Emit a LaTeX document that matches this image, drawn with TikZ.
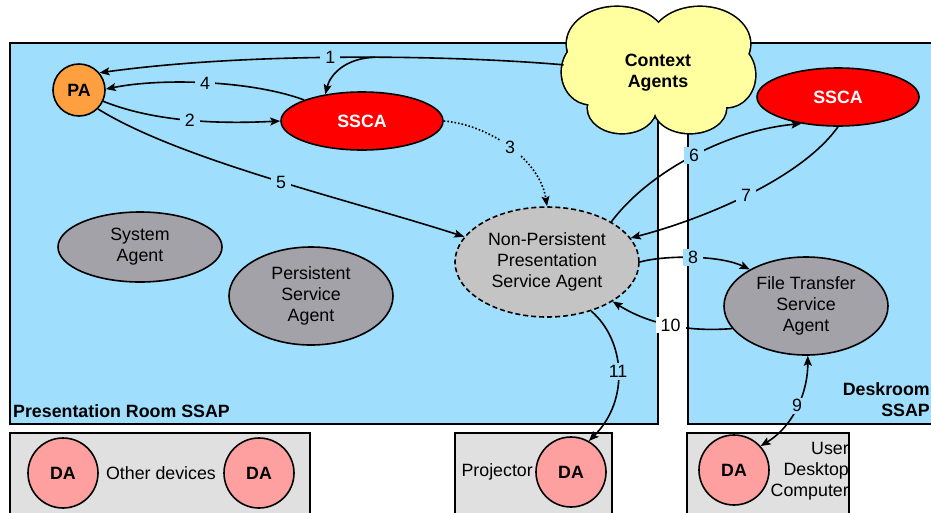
\documentclass[tikz,border=0pt]{standalone}
\usepackage{fontspec}
\setmainfont{Liberation Sans}
\usetikzlibrary{shapes.geometric,arrows.meta}
\definecolor{roomblue}{HTML}{9FDFFD}
\definecolor{agentgray}{HTML}{A3A2A8}
\definecolor{npgray}{HTML}{C4C4C4}
\definecolor{devgray}{HTML}{E0E0E0}
\definecolor{dapink}{HTML}{FFA0A0}
\definecolor{cloudy}{HTML}{FFFFA0}
\definecolor{paorange}{HTML}{FFA040}
\definecolor{sscared}{HTML}{FF0000}
\begin{document}
\begin{tikzpicture}[x=1pt,y=-1pt,
  txt/.style={font=\fontsize{17.8}{21}\selectfont},
  btxt/.style={font=\fontsize{17.8}{21}\selectfont\bfseries},
  room/.style={draw=black,line width=2pt,fill=roomblue},
  devbox/.style={draw=black,line width=2pt,fill=devgray},
  agent/.style={ellipse,draw=black,line width=1.6pt,inner sep=0pt,align=center,txt},
  ssca/.style={agent,fill=sscared,text=white,btxt,minimum width=162pt,minimum height=58pt},
  da/.style={circle,draw=black,line width=1.6pt,fill=dapink,minimum size=70pt,inner sep=0pt,btxt},
  conn/.style={line width=1.6pt,-{Stealth[length=10pt,width=8pt,inset=2pt]}},
  lbl/.style={fill=roomblue,inner xsep=5pt,inner ysep=2pt,txt}]
\useasboundingbox (0,0) rectangle (931,512);
% rooms
\path[room] (10,43) rectangle (658,424);
\path[room] (688,43) rectangle (945,424);
\path[devbox] (10,433) rectangle (310,520);
\path[devbox] (455,433) rectangle (612,520);
\path[devbox] (687,433) rectangle (849,520);
% cloud outline (union of puffs)
\def\puffs{617/44/50/37, 700/44/50/37, 590/72/28/32, 622/108/34/25, 690/108/36/25, 727/75/28/32}
\foreach \cx/\cy/\rx/\ry in \puffs
  \draw[line width=3.2pt] (\cx,\cy) ellipse[x radius=\rx pt, y radius=\ry pt];
\foreach \cx/\cy/\rx/\ry in \puffs
  \fill[cloudy] (\cx,\cy) ellipse[x radius=\rx pt, y radius=\ry pt];
\fill[cloudy] (658,72) ellipse[x radius=55pt, y radius=40pt];
% nodes
\node[ellipse,minimum width=190pt,minimum height=126pt,inner sep=0pt,align=center,btxt] (ctx) at (658,73) {Context\\Agents};
\node[circle,draw=black,line width=1.6pt,fill=paorange,minimum size=52pt,inner sep=0pt,btxt] (pa) at (79,90) {PA};
\node[ssca] (ssca1) at (362,121) {SSCA};
\node[ssca] (ssca2) at (838,97) {SSCA};
\node[agent,fill=npgray,dash pattern=on 5pt off 3pt,minimum width=184pt,minimum height=110pt] (np) at (547,262) {Non-Persistent\\Presentation\\Service Agent};
\node[agent,fill=agentgray,minimum width=164pt,minimum height=70pt] (sys) at (140,247) {System\\Agent};
\node[agent,fill=agentgray,minimum width=164pt,minimum height=98pt] (psa) at (311,296) {Persistent\\Service\\Agent};
\node[agent,fill=agentgray,minimum width=164pt,minimum height=98pt] (ftsa) at (806,306) {File Transfer\\Service\\Agent};
\node[da] (da1) at (63,473) {DA};
\node[da] (da2) at (259,473) {DA};
\node[da] (da3) at (571,472) {DA};
\node[da] (da4) at (734,470) {DA};
% texts
\node[btxt,anchor=west,inner sep=0pt] (prlbl) at (13,411) {Presentation Room SSAP};
\node[btxt,anchor=east,align=right,inner sep=0pt] (dslbl) at (930,400) {Deskroom\\SSAP};
\node[txt,inner sep=0pt] (oth) at (161,473) {Other devices};
\node[txt,anchor=east,inner sep=0pt] (proj) at (533,472) {Projector};
\node[txt,anchor=east,align=right,inner sep=0pt] (user) at (849,471) {User\\Desktop\\Computer};
% connectors
\draw[conn] (ctx) .. controls (450,55) and (250,52) .. coordinate[pos=0.44] (br) node[lbl,pos=0.53] {1} (pa.40);
\draw[conn] (br) .. controls (345,58) and (330,75) .. (ssca1.144);
\draw[conn] (ssca1.160) .. controls (250,80) and (160,78) .. node[lbl,pos=0.5] {4} (pa.2);
\draw[conn] (pa.-25) .. controls (145,118) and (200,125) .. node[lbl,pos=0.57] {2} (ssca1.west);
\draw[conn] (pa.-45) .. controls (180,160) and (350,200) .. node[lbl,pos=0.53] {5} (np.163);
\draw[conn,dotted] (ssca1.east) .. controls (490,125) and (540,160) .. node[lbl,pos=0.5] {3} (np.north);
\draw[conn] (np.32) .. controls (650,170) and (730,130) .. node[lbl,pos=0.5] {6} (ssca2.216);
\draw[conn] (ssca2.south) .. controls (800,180) and (700,220) .. node[lbl,pos=0.5] {7} (np.16);
\draw[conn] (np.east) .. controls (665,255) and (720,255) .. node[lbl,pos=0.5] {8} (ftsa.147);
\draw[conn] (ftsa.197) .. controls (690,332) and (650,325) .. node[lbl,fill=white,pos=0.5] {10} (np.-31);
\draw[conn] (np.-48) .. controls (625,340) and (630,400) .. node[lbl,pos=0.5] {11} (da3.60);
\draw[conn,{Stealth[length=10pt,width=8pt,inset=2pt]}-{Stealth[length=10pt,width=8pt,inset=2pt]}] (ftsa.-88) .. controls (808,390) and (795,425) .. node[lbl,pos=0.5] {9} (da4.42);
\end{tikzpicture}
\end{document}
